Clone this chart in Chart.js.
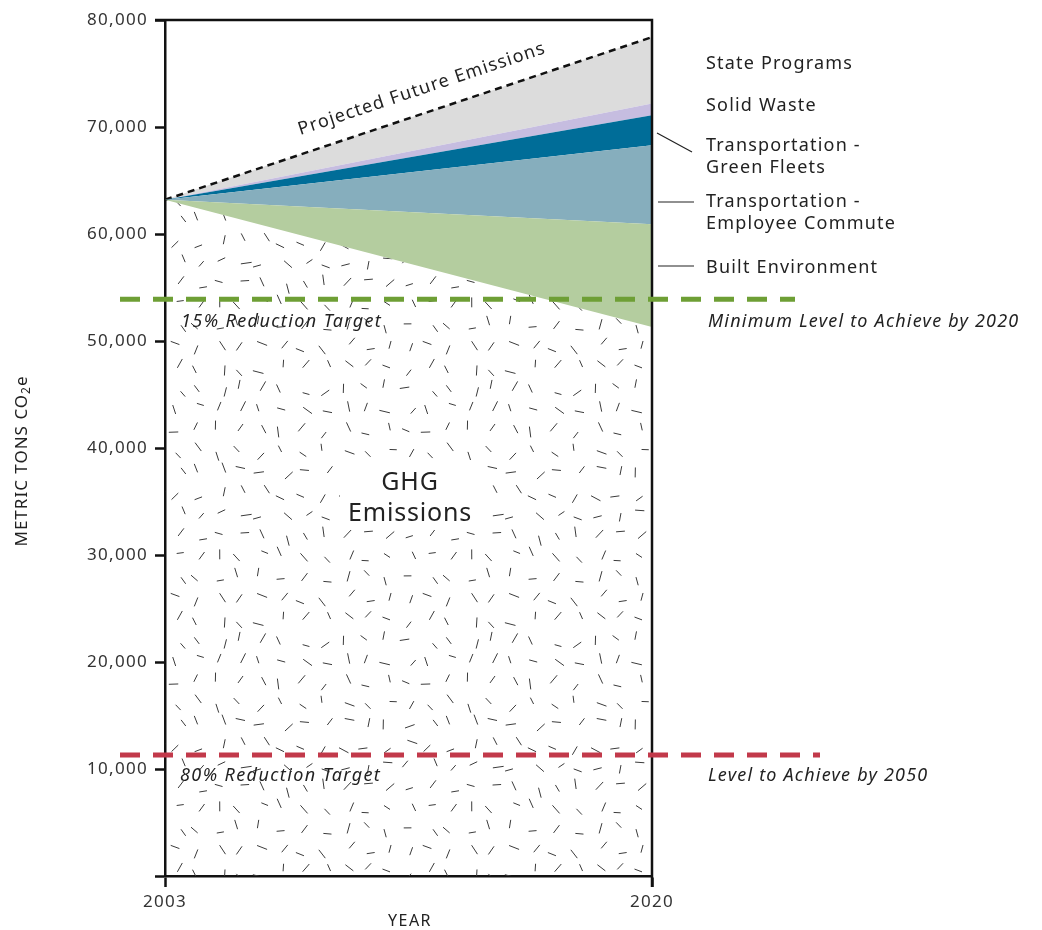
<!DOCTYPE html>
<html>
<head>
<meta charset="utf-8">
<script src="https://cdn.jsdelivr.net/npm/chart.js@4.4.1/dist/chart.umd.min.js"></script>
<style>
  html, body { margin: 0; padding: 0; background: #fff; }
  #wrap { width: 1042px; height: 930px; }
</style>
</head>
<body>
<div id="wrap"><canvas id="ghgChart" width="1042" height="930"></canvas></div>
<script>
// values (metric tons CO2e)
const years = [2003, 2020];
const ghgEmissions = [63200, 51300];
const builtEnvironment = [0, 9600];
const employeeCommute = [0, 7400];
const greenFleets = [0, 2800];
const solidWaste = [0, 1100];
const statePrograms = [0, 6200];
const yTickValues = [0, 10000, 20000, 30000, 40000, 50000, 60000, 70000, 80000];
const xTickValues = [2003, 2020];
const target2020 = 53900;
const target2050 = 11300;

const FONT = '"Noto Sans", sans-serif';

// stipple texture for the GHG area (jittered grid, fixed seed)
function makeStipple() {
  const cell = 21, n = 12;
  const tile = document.createElement('canvas');
  tile.width = cell * n; tile.height = cell * n;
  const t = tile.getContext('2d');
  let seed = 29;
  const rnd = () => { seed = (seed * 16807) % 2147483647; return seed / 2147483647; };
  t.strokeStyle = '#3a3a3a';
  t.lineWidth = 1;
  for (let i = 0; i < n; i++) {
    for (let j = 0; j < n; j++) {
      const cx = i * cell + 5 + rnd() * (cell - 10);
      const cy = j * cell + 5 + rnd() * (cell - 10);
      const ang = rnd() * Math.PI;
      const len = 7 + rnd() * 4;
      t.beginPath();
      t.moveTo(cx - Math.cos(ang) * len / 2, cy - Math.sin(ang) * len / 2);
      t.lineTo(cx + Math.cos(ang) * len / 2, cy + Math.sin(ang) * len / 2);
      t.stroke();
    }
  }
  return t.createPattern(tile, 'repeat');
}

const canvas = document.getElementById('ghgChart');
const ctx = canvas.getContext('2d');
const stipple = makeStipple();

const pts = arr => years.map((yr, i) => ({ x: yr, y: arr[i] }));

function band(label, data, color) {
  return {
    label, data: pts(data), fill: '-1', backgroundColor: color,
    borderWidth: 0, pointRadius: 0, tension: 0
  };
}

const spacing = {
  id: 'spacing',
  beforeDraw(chart) { chart.ctx.letterSpacing = '1.3px'; }
};

const overlay = {
  id: 'overlay',
  afterDatasetsDraw(chart) {
    const { ctx, chartArea: a, scales: { x, y } } = chart;
    ctx.save();

    // white box behind the GHG label
    ctx.fillStyle = '#fff';
    ctx.fillRect(340, 460, 142, 70);

    // frame
    ctx.strokeStyle = '#111';
    ctx.lineWidth = 2.5;
    ctx.beginPath();
    ctx.moveTo(a.left - 10, a.top);
    ctx.lineTo(a.right, a.top);
    ctx.lineTo(a.right, a.bottom + 11);
    ctx.stroke();

    // target lines
    const dashLine = (val, x0, x1, color) => {
      const py = y.getPixelForValue(val);
      ctx.strokeStyle = color;
      ctx.lineWidth = 5;
      ctx.setLineDash([20, 13]);
      ctx.beginPath();
      ctx.moveTo(x0, py);
      ctx.lineTo(x1, py);
      ctx.stroke();
      ctx.setLineDash([]);
      return py;
    };
    const g = dashLine(target2020, 120, 795, '#6e9f35');
    const r = dashLine(target2050, 120, 820, '#c2394a');

    ctx.fillStyle = '#222';
    ctx.textBaseline = 'middle';
    ctx.textAlign = 'left';
    ctx.font = 'italic 18px ' + FONT;
    ctx.letterSpacing = '1.4px';
    ctx.fillText('15% Reduction Target', 181, g + 23);
    ctx.fillText('80% Reduction Target', 180, r + 21);
    ctx.letterSpacing = '1.2px';
    ctx.fillText('Minimum Level to Achieve by 2020', 708, g + 23);
    ctx.fillText('Level to Achieve by 2050', 708, r + 21);

    // legend labels on the right
    ctx.font = '18px ' + FONT;
    ctx.letterSpacing = '1.2px';
    ctx.fillText('State Programs', 706, 64);
    ctx.fillText('Solid Waste', 706, 106);
    ctx.fillText('Transportation -', 706, 146);
    ctx.fillText('Green Fleets', 706, 168);
    ctx.fillText('Transportation -', 706, 202);
    ctx.fillText('Employee Commute', 706, 224);
    ctx.fillText('Built Environment', 706, 268);

    ctx.strokeStyle = '#222';
    ctx.lineWidth = 1.2;
    ctx.beginPath();
    ctx.moveTo(657, 133); ctx.lineTo(692, 152);
    ctx.moveTo(658, 202); ctx.lineTo(694, 202);
    ctx.moveTo(658, 266); ctx.lineTo(694, 266);
    ctx.stroke();

    // GHG label
    ctx.textAlign = 'center';
    ctx.font = '25px ' + FONT;
    ctx.letterSpacing = '0.8px';
    ctx.fillText('GHG', 410, 483);
    ctx.fillText('Emissions', 410, 514);

    // projected label along the dashed line
    const x0 = x.getPixelForValue(years[0]);
    const x1 = x.getPixelForValue(years[1]);
    const y0 = y.getPixelForValue(ghgEmissions[0]);
    const total = ghgEmissions[1] + builtEnvironment[1] + employeeCommute[1] +
      greenFleets[1] + solidWaste[1] + statePrograms[1];
    const y1 = y.getPixelForValue(total);
    const ang = Math.atan2(y1 - y0, x1 - x0);
    ctx.save();
    ctx.translate(422, 89);
    ctx.rotate(ang);
    ctx.font = '18px ' + FONT;
    ctx.letterSpacing = '1.2px';
    ctx.textAlign = 'center';
    ctx.fillText('Projected Future Emissions', 0, 0);
    ctx.restore();

    // axis titles
    ctx.font = '16px ' + FONT;
    ctx.letterSpacing = '1.5px';
    ctx.textAlign = 'center';
    ctx.fillText('YEAR', 410, 921);

    ctx.save();
    ctx.translate(22, 461);
    ctx.rotate(-Math.PI / 2);
    ctx.textAlign = 'left';
    ctx.letterSpacing = '1px';
    const main = 'METRIC TONS CO';
    ctx.font = '17px ' + FONT;
    const w1 = ctx.measureText(main).width;
    ctx.font = '12px ' + FONT;
    const w2 = ctx.measureText('2').width;
    ctx.font = '17px ' + FONT;
    const w3 = ctx.measureText('e').width;
    let sx = -(w1 + w2 + w3) / 2;
    ctx.fillText(main, sx, 0);
    sx += w1;
    ctx.font = '12px ' + FONT;
    ctx.fillText('2', sx, 5);
    sx += w2;
    ctx.font = '17px ' + FONT;
    ctx.fillText('e', sx, 0);
    ctx.restore();

    ctx.restore();
  }
};

new Chart(ctx, {
  type: 'line',
  data: {
    datasets: [
      {
        label: 'GHG Emissions', data: pts(ghgEmissions), fill: 'origin',
        backgroundColor: stipple, borderWidth: 0, pointRadius: 0, tension: 0
      },
      band('Built Environment', builtEnvironment, '#b4cd9f'),
      band('Transportation - Employee Commute', employeeCommute, '#86aebd'),
      band('Transportation - Green Fleets', greenFleets, '#006d98'),
      band('Solid Waste', solidWaste, '#c6bde0'),
      {
        label: 'State Programs', data: pts(statePrograms), fill: '-1',
        backgroundColor: '#dcdcdc', borderColor: '#111', borderWidth: 2.5,
        borderDash: [7, 5], pointRadius: 0, tension: 0, clip: 4
      }
    ]
  },
  options: {
    responsive: false,
    animation: false,
    layout: { padding: { left: 0, right: 390, top: 20, bottom: 0 } },
    plugins: { legend: { display: false }, tooltip: { enabled: false } },
    scales: {
      x: {
        type: 'linear', min: 2003, max: 2020,
        afterBuildTicks: s => { s.ticks = xTickValues.map(v => ({ value: v })); },
        afterFit: s => { s.height = 54; },
        ticks: {
          color: '#333', font: { family: FONT, size: 17 }, padding: 5,
          callback: v => String(v)
        },
        grid: { drawOnChartArea: false, tickLength: 11, tickWidth: 2.5, tickColor: '#111' },
        border: { color: '#111', width: 2.5 }
      },
      y: {
        stacked: true, min: 0, max: 80000,
        afterBuildTicks: s => { s.ticks = yTickValues.map(v => ({ value: v })); },
        afterFit: s => { s.width = 165; },
        ticks: {
          color: '#333', font: { family: FONT, size: 17 }, padding: 7,
          callback: v => v === 0 ? '' : v.toLocaleString('en-US')
        },
        grid: { drawOnChartArea: false, tickLength: 10, tickWidth: 2.5, tickColor: '#111' },
        border: { color: '#111', width: 2.5 }
      }
    }
  },
  plugins: [spacing, overlay]
});
</script>
</body>
</html>
